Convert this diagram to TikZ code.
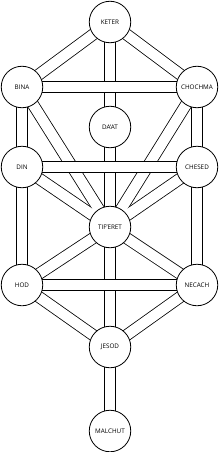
\documentclass[tikz,border=0pt]{standalone}
\usepackage{fontspec}
\setsansfont{Open Sans}
\usetikzlibrary{backgrounds}
\begin{document}
\begin{tikzpicture}[x=1pt,y=-1pt,
  sefira/.style={circle,draw,line width=0.8pt,fill=white,minimum size=41.5pt,inner sep=0pt,font=\sffamily\fontsize{6.3}{7}\selectfont},
  pathout/.style={line width=12pt,draw=black},
  pathin/.style={line width=10.4pt,draw=white}]
\useasboundingbox (0,0) rectangle (220,452);
\node[sefira] (keter)   at (110,22)  {KETER};
\node[sefira] (bina)    at (22,87)   {BINA};
\node[sefira] (chochma) at (197,87)  {CHOCHMA};
\node[sefira] (daat)    at (110,127) {DA’AT};
\node[sefira] (din)     at (22,167)  {DIN};
\node[sefira] (chesed)  at (197,167) {CHESED};
\node[sefira] (tiferet) at (110,227) {TIF’ERET};
\node[sefira] (hod)     at (22,285)  {HOD};
\node[sefira] (necach)  at (197,285) {NECACH};
\node[sefira] (jesod)   at (110,347) {JESOD};
\node[sefira] (malchut) at (110,431) {MALCHUT};
\begin{scope}[on background layer]
\foreach \a/\b in {keter/tiferet,keter/bina,keter/chochma,bina/din,chochma/chesed,
  bina/tiferet,chochma/tiferet,din/tiferet,chesed/tiferet,din/hod,chesed/necach,
  hod/tiferet,necach/tiferet,tiferet/jesod,hod/jesod,necach/jesod,jesod/malchut}
  \draw[pathout] (\a.center) -- (\b.center);
\foreach \a/\b in {keter/tiferet,keter/bina,keter/chochma,bina/din,chochma/chesed,
  bina/tiferet,chochma/tiferet,din/tiferet,chesed/tiferet,din/hod,chesed/necach,
  hod/tiferet,necach/tiferet,tiferet/jesod,hod/jesod,necach/jesod,jesod/malchut}
  \draw[pathin] (\a.center) -- (\b.center);
\foreach \a/\b in {bina/chochma,din/chesed,hod/necach}
  {\draw[pathout] (\a.center) -- (\b.center);
   \draw[pathin] (\a.center) -- (\b.center);}
\end{scope}
\end{tikzpicture}
\end{document}
